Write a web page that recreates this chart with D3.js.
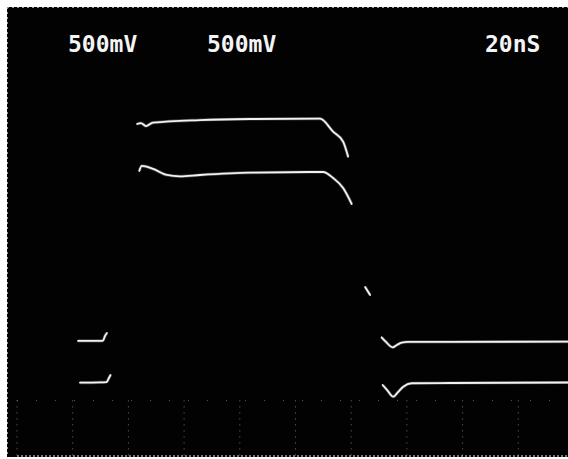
<!DOCTYPE html>
<html>
<head>
<meta charset="utf-8">
<script src="https://cdn.jsdelivr.net/npm/d3@7/dist/d3.min.js"></script>
<style>
  html, body { margin: 0; padding: 0; background: #ffffff; }
  svg { display: block; }
</style>
</head>
<body>
<div id="scope"></div>
<script>
// scope screen settings
var width = 568;
var height = 459;

// channel labels and timebase
var channelLabels = ['500mV', '500mV'];
var timebaseLabel = '20nS';

// graticule divisions: 10 across (20 ns each), 8 down (0.5 V each)
var timeTicks = [0, 20, 40, 60, 80, 100, 120, 140, 160, 180, 200];
var voltTicks = [-2, -1.5];

// channel 1 (upper trace), time in ns, level in V
var ch1LowTime = [21.9, 26.2, 29.8, 30.9, 31.6, 32.3];
var ch1LowVolt = [-0.966, -0.966, -0.966, -0.962, -0.921, -0.894];
var ch1HighTime = [43.1, 44.5, 46.3, 48.8, 65.7, 83.7, 108.8, 113.5, 117.1, 118.9];
var ch1HighVolt = [0.984, 0.993, 0.966, 0.996, 1.020, 1.029, 1.032, 0.915, 0.825, 0.690];
var ch1EdgeTime = [125.0, 126.8];
var ch1EdgeVolt = [-0.481, -0.553];
var ch1AfterTime = [130.9, 132.5, 134.9, 136.4, 138.1, 140.4, 155.5, 199.5];
var ch1AfterVolt = [-0.933, -0.975, -1.023, -1.002, -0.982, -0.975, -0.975, -0.971];

// channel 2 (lower trace)
var ch2LowTime = [22.6, 29.8, 32.2, 33.0, 33.6];
var ch2LowVolt = [-1.341, -1.339, -1.335, -1.299, -1.272];
var ch2HighTime = [43.9, 44.8, 48.9, 53.8, 58.5, 65.7, 83.7, 109.9, 113.5, 117.1, 120.2];
var ch2HighVolt = [0.562, 0.607, 0.580, 0.526, 0.514, 0.526, 0.547, 0.553, 0.499, 0.409, 0.265];
var ch2AfterTime = [131.3, 132.9, 135.1, 136.8, 138.7, 141.7, 155.5, 199.5];
var ch2AfterVolt = [-1.362, -1.407, -1.467, -1.425, -1.377, -1.346, -1.344, -1.339];

function zipTrace(times, volts){
  var pts = [];
  for (var i = 0; i < times.length; i++){
    pts.push({'t': times[i], 'v': volts[i]});
  }
  return pts;
}

var traces = [
  zipTrace(ch1LowTime, ch1LowVolt),
  zipTrace(ch1HighTime, ch1HighVolt),
  zipTrace(ch1EdgeTime, ch1EdgeVolt),
  zipTrace(ch1AfterTime, ch1AfterVolt),
  zipTrace(ch2LowTime, ch2LowVolt),
  zipTrace(ch2HighTime, ch2HighVolt),
  zipTrace(ch2AfterTime, ch2AfterVolt)
];

var x = d3.scaleLinear().domain([0, 200]).range([17, 574]);
var y = d3.scaleLinear().domain([-2, 2]).range([456, 11]);

var svg = d3.select("#scope").append("svg")
            .attr("width", width)
            .attr("height", height);

// black screen
svg.append("rect")
   .attr("x", 7).attr("y", 7)
   .attr("width", width - 7).attr("height", 450)
   .style("fill", "#020202");

// faint edge of the screen
svg.append("line")
   .attr("x1", 7).attr("x2", width).attr("y1", 7.5).attr("y2", 7.5)
   .style("stroke", "#9a9a9a").style("stroke-dasharray", "2,3").style("stroke-width", 1);
svg.append("line")
   .attr("x1", 7.5).attr("x2", 7.5).attr("y1", 7).attr("y2", 457)
   .style("stroke", "#9a9a9a").style("stroke-dasharray", "2,3").style("stroke-width", 1);

// graticule, only the lowest division shows on the photo
var grid = svg.append("g");
grid.selectAll("line.h")
    .data(voltTicks)
    .enter().append("line")
    .attr("x1", 17).attr("x2", width)
    .attr("y1", function(d){ return y(d); })
    .attr("y2", function(d){ return y(d); })
    .style("stroke", "#cfcfcf")
    .style("stroke-width", function(d){ return d === -2 ? 1.5 : 1; })
    .style("stroke-dasharray", function(d){ return d === -2 ? "2,2" : "1,18"; })
    .style("opacity", function(d){ return d === -2 ? 0.75 : 0.45; });

grid.selectAll("line.v")
    .data(timeTicks)
    .enter().append("line")
    .attr("x1", function(d){ return x(d); })
    .attr("x2", function(d){ return x(d); })
    .attr("y1", y(-1.5))
    .attr("y2", y(-2))
    .style("stroke", "#d0d0d0")
    .style("stroke-width", 1)
    .style("stroke-dasharray", "1,5")
    .style("opacity", 0.55);

// traces
var line = d3.line()
             .x(function(d){ return x(d.t); })
             .y(function(d){ return y(d.v); })
             .curve(d3.curveMonotoneX);

svg.selectAll("path.glow")
   .data(traces)
   .enter().append("path")
   .attr("d", line)
   .style("fill", "none")
   .style("stroke", "#ffffff")
   .style("stroke-width", 3.2)
   .style("opacity", 0.25);

svg.selectAll("path.trace")
   .data(traces)
   .enter().append("path")
   .attr("d", line)
   .style("fill", "none")
   .style("stroke", "#f2f2f2")
   .style("stroke-width", 1.8)
   .style("stroke-linecap", "round");

// screen readouts
var labels = [
  {'text': channelLabels[0], 'x': 68},
  {'text': channelLabels[1], 'x': 207},
  {'text': timebaseLabel, 'x': 485}
];

svg.selectAll("text")
   .data(labels)
   .enter().append("text")
   .attr("x", function(d){ return d.x; })
   .attr("y", 52)
   .text(function(d){ return d.text; })
   .style("font-family", "'DejaVu Sans Mono', monospace")
   .style("font-weight", "bold")
   .style("font-size", "23px")
   .style("fill", "#f4f4f4");
</script>
</body>
</html>
